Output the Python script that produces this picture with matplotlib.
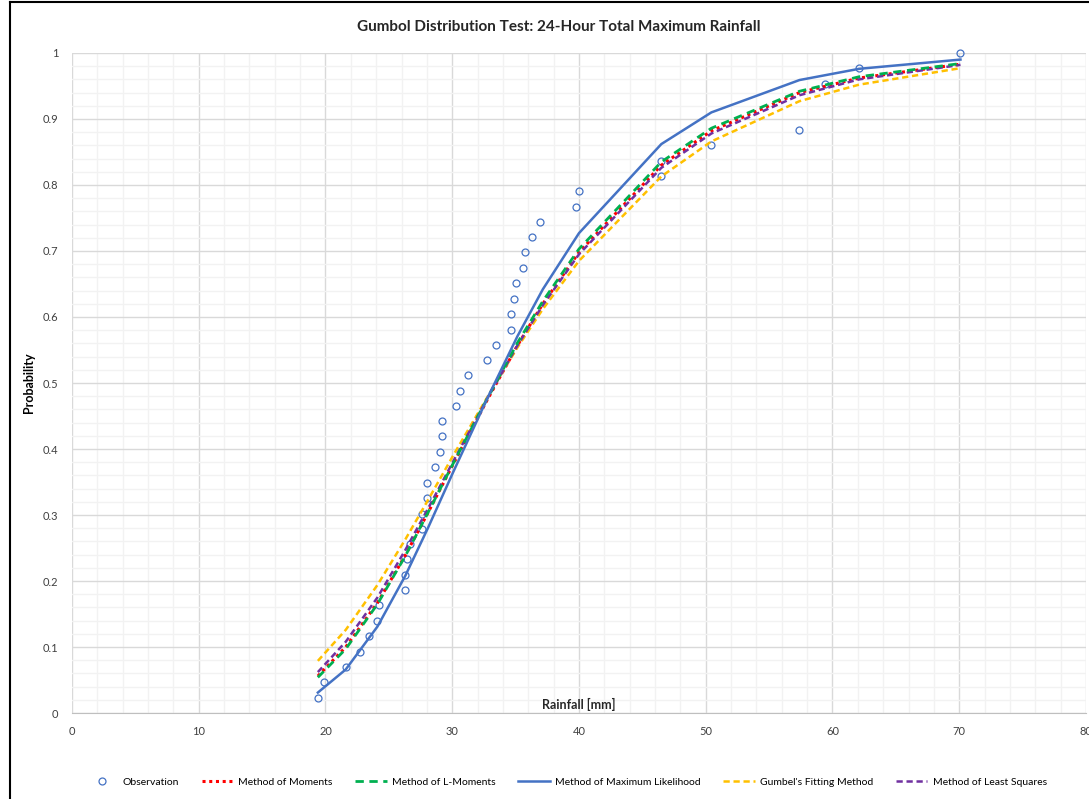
import matplotlib.pyplot as plt
from matplotlib.lines import Line2D
from matplotlib.ticker import MultipleLocator

plt.rcParams['font.family'] = ['Lato', 'DejaVu Sans']

# observed rainfall and plotting-position probabilities
obs_x = [19.42, 19.89, 21.63, 22.73, 23.44, 24.07, 24.23, 26.28, 26.28, 26.44,
         26.68, 27.62, 27.62, 28.02, 28.02, 28.65, 29.05, 29.20, 29.20, 30.31,
         30.62, 31.26, 32.75, 33.47, 34.65, 34.65, 34.89, 35.04, 35.60, 35.75,
         36.31, 36.94, 39.78, 40.02, 46.49, 46.49, 50.44, 57.38, 59.43, 62.12,
         70.09]
obs_p = [0.023, 0.047, 0.070, 0.093, 0.116, 0.140, 0.163, 0.186, 0.209, 0.233,
         0.256, 0.279, 0.302, 0.326, 0.349, 0.372, 0.395, 0.419, 0.442, 0.465,
         0.488, 0.512, 0.535, 0.558, 0.581, 0.605, 0.628, 0.651, 0.674, 0.698,
         0.721, 0.744, 0.767, 0.791, 0.814, 0.837, 0.860, 0.884, 0.953, 0.977,
         1.000]

# fitted curves, read at these rainfall values
fit_x = [19.4, 21.6, 24.1, 26.3, 28.1, 30.1, 32.75, 35.15, 37.15, 40.0,
         46.5, 50.45, 57.4, 62.1, 70.1]
moments = [0.056, 0.100, 0.167, 0.239, 0.304, 0.378, 0.474, 0.557, 0.620, 0.698,
           0.830, 0.882, 0.940, 0.962, 0.983]
l_moments = [0.054, 0.097, 0.165, 0.238, 0.304, 0.379, 0.476, 0.561, 0.624, 0.703,
             0.835, 0.886, 0.942, 0.964, 0.984]
max_likelihood = [0.031, 0.066, 0.131, 0.208, 0.281, 0.366, 0.476, 0.571, 0.642, 0.727,
                  0.862, 0.910, 0.959, 0.976, 0.990]
gumbel_fit = [0.079, 0.126, 0.194, 0.263, 0.323, 0.391, 0.478, 0.554, 0.612, 0.685,
              0.813, 0.866, 0.927, 0.952, 0.977]
least_squares = [0.062, 0.108, 0.175, 0.247, 0.310, 0.382, 0.476, 0.557, 0.618, 0.695,
                 0.826, 0.878, 0.936, 0.960, 0.982]

fig = plt.figure(figsize=(10.89, 7.99), dpi=100)
ax = fig.add_axes([0.0661, 0.1076, 0.9311, 0.8261])

ax.plot(obs_x, obs_p, 'o', mfc='none', mec='#4472C4', ms=5, mew=0.9,
        label='Observation', zorder=3, clip_on=False)
ax.plot(fit_x, moments, color='#FF0000', ls=(0, (1, 1.2)), lw=2.2,
        label='Method of Moments', zorder=4)
ax.plot(fit_x, l_moments, color='#00B050', ls=(0, (3, 2)), lw=2,
        label='Method of L-Moments', zorder=5)
ax.plot(fit_x, max_likelihood, color='#4472C4', lw=1.8,
        label='Method of Maximum Likelihood', zorder=6)
ax.plot(fit_x, gumbel_fit, color='#FFC000', ls=(0, (2.5, 1.5)), lw=1.8,
        label="Gumbel's Fitting Method", zorder=4)
ax.plot(fit_x, least_squares, color='#7030A0', ls=(0, (2.5, 1.5)), lw=1.8,
        label='Method of Least Squares', zorder=4)

ax.set_xlim(0, 80)
ax.set_ylim(0, 1)
ax.xaxis.set_major_locator(MultipleLocator(10))
ax.xaxis.set_minor_locator(MultipleLocator(2))
ax.yaxis.set_major_locator(MultipleLocator(0.1))
ax.yaxis.set_minor_locator(MultipleLocator(0.02))
ax.set_yticks([0, 0.1, 0.2, 0.3, 0.4, 0.5, 0.6, 0.7, 0.8, 0.9, 1])
ax.set_yticklabels(['0', '0.1', '0.2', '0.3', '0.4', '0.5', '0.6', '0.7', '0.8', '0.9', '1'])
ax.grid(which='major', color='#d9d9d9', lw=1)
ax.grid(which='minor', color='#f2f2f2', lw=1)
ax.set_axisbelow(True)
for s in ['top', 'right', 'left']:
    ax.spines[s].set_visible(False)
ax.spines['bottom'].set_color('#bfbfbf')
ax.tick_params(which='both', length=0, labelsize=8, labelcolor='#404040')
ax.tick_params(axis='x', pad=9)
ax.tick_params(axis='y', pad=10)

ax.set_ylabel('Probability', fontsize=9, fontweight='bold')
ax.yaxis.set_label_coords(-0.036, 0.5)
ax.text(0.5, 0.013, 'Rainfall [mm]', transform=ax.transAxes, ha='center',
        va='center', fontsize=9, fontweight='bold', color='#262626')
fig.text(0.513, 0.966, 'Gumbol Distribution Test: 24-Hour Total Maximum Rainfall',
         ha='center', va='center', fontsize=11, fontweight='bold', color='#262626')

fig.legend(loc='center', bbox_to_anchor=(0.52, 0.021), ncol=6, frameon=False,
           fontsize=7.5, handlelength=3, columnspacing=2.2, handletextpad=0.5)

# outer frame of the chart (left and top edges)
fig.add_artist(Line2D([10 / 1089, 10 / 1089], [0, 1 - 2 / 799], color='black', lw=1.5))
fig.add_artist(Line2D([10 / 1089, 1], [1 - 2 / 799, 1 - 2 / 799], color='black', lw=1.5))

fig.savefig('out.png', dpi=100)
